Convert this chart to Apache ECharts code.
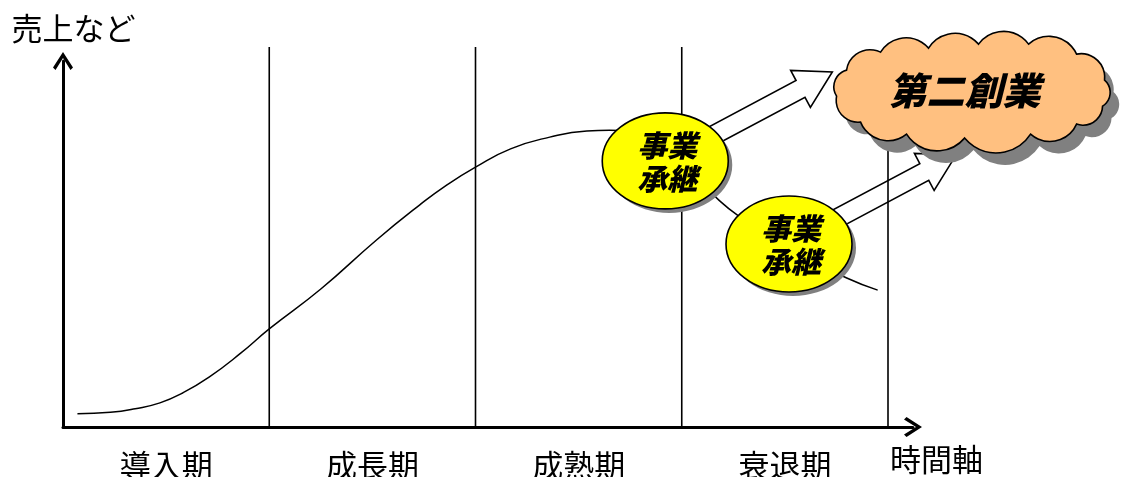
<!DOCTYPE html>
<html>
<head>
<meta charset="utf-8">
<title>事業承継と第二創業</title>
<script src="https://cdn.jsdelivr.net/npm/echarts@6/dist/echarts.min.js"></script>
<style>
html, body { margin: 0; padding: 0; background: #fff; }
#main { width: 1124px; height: 477px; }
</style>
</head>
<body>
<div id="main"></div>
<script>
// phases on the time axis
var phaseNames = ['導入期', '成長期', '成熟期', '衰退期'];
var phaseCenters = [0.5, 1.5, 2.5, 3.5];
var phaseBounds = [1, 2, 3, 4];

// sales curve (time, sales)
var curveTime = [0.07, 0.23, 0.35, 0.47, 0.58, 0.71, 0.86, 1.00, 1.25, 1.52, 1.73, 1.86, 2.00, 2.17, 2.36, 2.54, 2.65, 2.80, 2.99, 3.18, 3.27, 3.53, 3.80, 3.95];
var curveSales = [3.6, 4.0, 5.0, 6.6, 9.3, 13.7, 20.1, 26.8, 37.7, 51.1, 60.7, 66.1, 71.0, 76.0, 79.2, 80.9, 81.1, 79.2, 72.4, 62.0, 57.9, 48.4, 40.7, 37.4];

// business succession badges and the arrows leaving them
var badgeTime = [2.92, 3.52];
var badgeSales = [72.7, 50.0];
var badgeText = '事業\n承継';
var arrowTipTime = [3.73, 4.33];
var arrowTipSales = [97.0, 74.3];

// second founding cloud
var cloudTime = [4.41];
var cloudSales = [91.5];
var cloudText = '第二創業';

var FONT = '"Noto Sans CJK JP", "Noto Sans", sans-serif';
var boundTop = 103.8;
var chevron = 'path://M0,15.5 L10,0 L20,15.5 L17.5,18 L10,6 L2.5,18 Z';

function ellipsePath(cx, cy, rx, ry) {
	return 'M' + (cx - rx) + ',' + cy +
		' A' + rx + ',' + ry + ' 0 1,0 ' + (cx + rx) + ',' + cy +
		' A' + rx + ',' + ry + ' 0 1,0 ' + (cx - rx) + ',' + cy + ' Z';
}

// cloud outline: valleys between bumps, relative to the cloud centre
var cloudValleys = [
	[-136, 4], [-126, -22], [-92, -40], [-44, -44], [6, -48], [56, -48],
	[104, -38], [132, -12], [130, 14], [104, 32], [58, 42], [-8, 46],
	[-66, 42], [-112, 30]
];

function cloudPath(cx, cy) {
	var d = 'M' + (cx + cloudValleys[0][0]) + ',' + (cy + cloudValleys[0][1]);
	for (var i = 0; i < cloudValleys.length; i++) {
		var a = cloudValleys[i];
		var b = cloudValleys[(i + 1) % cloudValleys.length];
		var c = Math.sqrt((b[0] - a[0]) * (b[0] - a[0]) + (b[1] - a[1]) * (b[1] - a[1]));
		var r = Math.max(c * 0.62, c / 2 + 0.1);
		d += ' A' + r + ',' + r + ' 0 0,1 ' + (cx + b[0]) + ',' + (cy + b[1]);
	}
	return d + ' Z';
}

var boundData = phaseBounds.map(function (b) { return [b, 0]; });
var curveData = curveTime.map(function (t, i) { return [t, curveSales[i]]; });
var badgeData = badgeTime.map(function (t, i) { return [t, badgeSales[i]]; });
var arrowData = badgeTime.map(function (t, i) {
	return [t, badgeSales[i], arrowTipTime[i], arrowTipSales[i]];
});
var cloudData = cloudTime.map(function (t, i) { return [t, cloudSales[i]]; });

var myChart = echarts.init(document.getElementById('main'));
var option = {
	animation: false,
	backgroundColor: '#fff',
	textStyle: { fontFamily: FONT },
	grid: { left: 63, right: 211, top: 61, bottom: 50, outerBoundsMode: 'none', containLabel: false },
	xAxis: {
		type: 'value',
		min: 0,
		max: 4.1212,
		name: '時間軸',
		nameLocation: 'end',
		nameGap: -23,
		nameTextStyle: {
			color: '#000', fontSize: 31, fontFamily: FONT,
			verticalAlign: 'top', padding: [17, 0, 0, 0]
		},
		axisLine: {
			lineStyle: { color: '#000', width: 3 },
			symbol: ['none', chevron],
			symbolSize: [20, 18]
		},
		axisTick: { show: false },
		splitLine: { show: false },
		axisLabel: {
			customValues: phaseCenters,
			formatter: function (v) {
				return phaseNames[phaseCenters.indexOf(v)];
			},
			color: '#000',
			fontSize: 31,
			lineHeight: 31,
			margin: 23
		}
	},
	yAxis: {
		type: 'value',
		min: 0,
		max: 100,
		name: '売上など',
		nameLocation: 'end',
		nameGap: 17,
		nameTextStyle: {
			color: '#000', fontSize: 31, fontFamily: FONT,
			padding: [0, 0, 0, 21]
		},
		axisLine: {
			show: true,
			lineStyle: { color: '#000', width: 3 },
			symbol: ['none', chevron],
			symbolSize: [20, 18]
		},
		axisTick: { show: false },
		splitLine: { show: false },
		axisLabel: { show: false }
	},
	series: [{
		type: 'custom',
		z: 1,
		data: boundData,
		encode: { x: 0, y: 1 },
		renderItem: function (params, api) {
			var p0 = api.coord([api.value(0), api.value(1)]);
			var p1 = api.coord([api.value(0), boundTop]);
			return {
				type: 'line',
				shape: { x1: p0[0], y1: p0[1], x2: p1[0], y2: p1[1] },
				style: { stroke: '#000', lineWidth: 1.6 }
			};
		}
	}, {
		type: 'line',
		z: 2,
		data: curveData,
		smooth: 0.5,
		showSymbol: false,
		lineStyle: { color: '#000', width: 1.5 }
	}, {
		type: 'custom',
		z: 3,
		data: arrowData,
		encode: { x: [0, 2], y: [1, 3] },
		renderItem: function (params, api) {
			var t = api.coord([api.value(0), api.value(1)]);
			var p = api.coord([api.value(2), api.value(3)]);
			var dx = p[0] - t[0], dy = p[1] - t[1];
			var len = Math.sqrt(dx * dx + dy * dy);
			var ux = dx / len, uy = dy / len;
			var nx = -uy, ny = ux;
			var w = 9.5, h = 21, L = 36;
			var bx = p[0] - ux * L, by = p[1] - uy * L;
			return {
				type: 'polygon',
				shape: {
					points: [
						[t[0] + nx * w, t[1] + ny * w],
						[bx + nx * w, by + ny * w],
						[bx + nx * h, by + ny * h],
						[p[0], p[1]],
						[bx - nx * h, by - ny * h],
						[bx - nx * w, by - ny * w],
						[t[0] - nx * w, t[1] - ny * w]
					]
				},
				style: { fill: 'none', stroke: '#000', lineWidth: 1.6, lineJoin: 'miter' }
			};
		}
	}, {
		type: 'custom',
		z: 4,
		data: badgeData,
		encode: { x: 0, y: 1 },
		renderItem: function (params, api) {
			var c = api.coord([api.value(0), api.value(1)]);
			return {
				type: 'group',
				children: [{
					type: 'path',
					shape: { pathData: ellipsePath(c[0] + 4, c[1] + 4, 63, 48) },
					style: { fill: '#808080', stroke: 'none' }
				}, {
					type: 'path',
					shape: { pathData: ellipsePath(c[0], c[1], 63, 48) },
					style: { fill: '#ffff00', stroke: '#000', lineWidth: 1.6 }
				}, {
					type: 'text',
					x: c[0] + 2,
					y: c[1] + 1,
					style: {
						text: badgeText,
						fontFamily: FONT,
						fontSize: 30,
						fontWeight: 900,
						fontStyle: 'italic',
						lineHeight: 33,
						fill: '#000',
						align: 'center',
						verticalAlign: 'middle',
						shadowColor: 'rgba(0,0,0,0.35)',
						shadowOffsetX: 2,
						shadowOffsetY: 2,
						shadowBlur: 0
					}
				}]
			};
		}
	}, {
		type: 'custom',
		z: 5,
		data: cloudData,
		encode: { x: 0, y: 1 },
		renderItem: function (params, api) {
			var c = api.coord([api.value(0), api.value(1)]);
			return {
				type: 'group',
				children: [{
					type: 'path',
					shape: { pathData: cloudPath(c[0] + 9, c[1] + 12) },
					style: { fill: '#808080', stroke: 'none' }
				}, {
					type: 'path',
					shape: { pathData: cloudPath(c[0], c[1]) },
					style: { fill: '#ffc080', stroke: '#000', lineWidth: 1.6 }
				}, {
					type: 'text',
					x: c[0] - 8,
					y: c[1] - 2,
					style: {
						text: cloudText,
						fontFamily: FONT,
						fontSize: 38,
						fontWeight: 900,
						fontStyle: 'italic',
						fill: '#000',
						align: 'center',
						verticalAlign: 'middle',
						shadowColor: 'rgba(0,0,0,0.3)',
						shadowOffsetX: 2,
						shadowOffsetY: 2,
						shadowBlur: 0
					}
				}]
			};
		}
	}]
};
myChart.setOption(option);
</script>
</body>
</html>
